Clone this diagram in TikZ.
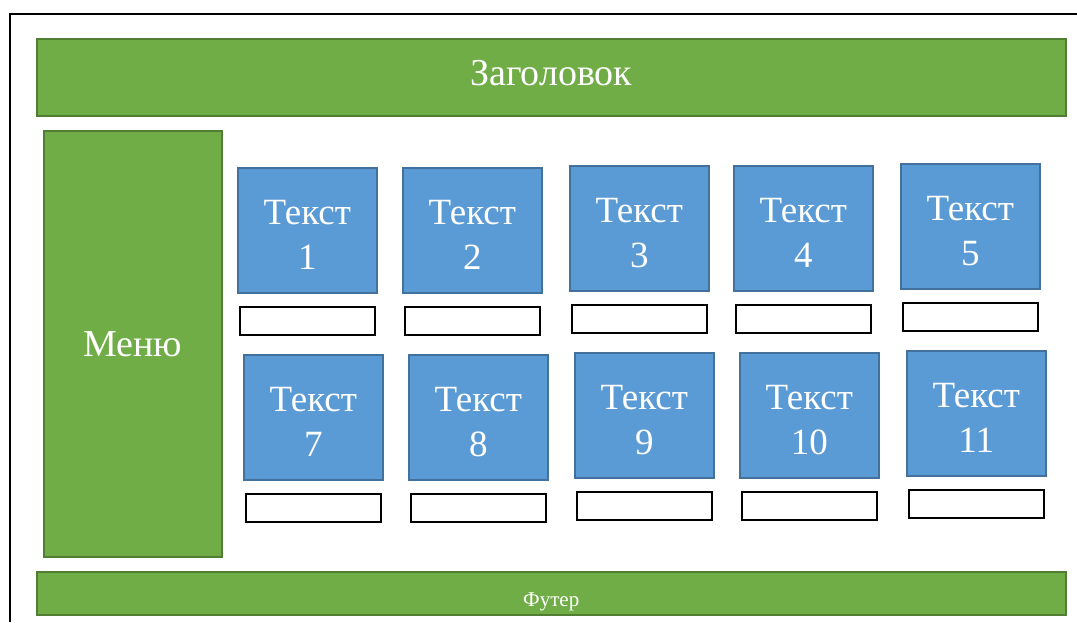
\documentclass[tikz,border=0pt]{standalone}
\usepackage{fontspec}
\setmainfont{Liberation Serif}
\usetikzlibrary{positioning}
\definecolor{grfill}{HTML}{70AD47}
\definecolor{grline}{HTML}{507E32}
\definecolor{blfill}{HTML}{5B9BD5}
\definecolor{blline}{HTML}{41719C}
\tikzset{
  greenbox/.style={draw=grline, fill=grfill, line width=1.5pt, text=white,
    anchor=north west, inner sep=0pt},
  textbox/.style={draw=blline, fill=blfill, line width=1.5pt, text=white,
    align=center, anchor=north west, minimum width=139pt, minimum height=125pt,
    inner sep=0pt, font=\fontsize{37}{45}\selectfont},
  capbox/.style={draw=black, fill=white, line width=2pt, minimum width=135pt,
    minimum height=28pt, inner sep=0pt},
}
\begin{document}
\begin{tikzpicture}[x=1pt,y=-1pt]
  \useasboundingbox (0,0) rectangle (1077,622);
  % page frame
  \draw[line width=2.5pt] (10,622) -- (10,14) -- (1077,14);
  \node[greenbox, minimum width=1029pt, minimum height=77pt, text height=25pt,
    text depth=8pt, font=\fontsize{38}{44}\selectfont] (header) at (36,38) {Заголовок};
  \node[greenbox, minimum width=178pt, minimum height=426pt,
    font=\fontsize{38}{44}\selectfont] (menu) at (43,130) {Меню};
  \node[greenbox, minimum width=1029pt, minimum height=43pt, text height=26pt,
    text depth=0pt, font=\fontsize{21}{24}\selectfont] (footer) at (36,571) {Футер};
  % content blocks
  \foreach \n/\x/\y in {1/237/167, 2/402/167, 3/569/165, 4/733/165, 5/900/163,
                        7/243/354, 8/408/354, 9/574/352, 10/739/352, 11/906/350} {
    \node[textbox] (t\n) at (\x,\y) {\rule{0pt}{33pt}Текст\\\n};
    \node[capbox, below=12pt of t\n] (c\n) {};
  }
\end{tikzpicture}
\end{document}
